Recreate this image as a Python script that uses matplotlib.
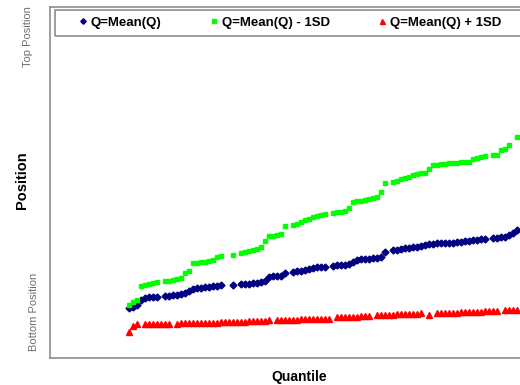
import numpy as np
import matplotlib
matplotlib.use("Agg")
import matplotlib.pyplot as plt
from matplotlib.patches import Rectangle

plt.rcParams['font.family'] = ['Liberation Sans', 'DejaVu Sans']

# Quantile index (1..98); None = no point at that quantile
quantile = list(range(1, 99))

# Position values (larger = lower on chart; axis runs from Bottom to Top position)
mean_q = [308, 306.5, 305, 300, 297.5, 297, 296.5, 296.5, None, 296,
          295.5, 295, 294.5, 294, 293, 291, 289, 287.5, 287.5, 287,
          286.5, 286, 285.5, 284.5, None, None, 284.5, None, 284.3, 284,
          283.5, 283.3, 283, 282, 280.5, 277, 276, 276.3, 275.5, 272.7,
          None, 271.7, 271, 270.5, 269.5, 268.5, 267.5, 267, 267, 266.7,
          None, 265.5, 265.3, 265.2, 265, 264, 262, 260, 259.3, 259,
          258.5, 258.3, 258, 256.5, 252, None, 250.3, 249.7, 249, 248.3,
          247.5, 247, 246.5, 246, 245, 244.3, 243.7, 243.3, 243.3, 243,
          242.7, 242.5, 242, 241.7, 241.3, 240.8, 240.3, 239.7, 239.3, 238.7,
          None, 238.3, 237.8, 237.3, 237, 235, 232.5, 229.5]

mean_minus_sd = [305, 302, 299.5, 286, 285, 284, 283, 282, None, 281,
                 280.5, 280, 279, 277.5, 273, 271, 263, 262.5, 262, 261.5,
                 260.5, 260, 256.5, 256, None, None, 255, None, 253.3, 252,
                 251, 250, 248.5, 246.7, 240.7, 236, 235.5, 235, 234.3, 226,
                 None, 225, 223.5, 222, 220, 218.5, 217, 215.5, 214.5, 213.5,
                 None, 212.7, 212, 211.5, 210.7, 208.3, 201.7, 201, 200.5, 199.5,
                 199, 198.3, 197, 192.3, 183.3, None, 181.7, 180.5, 179, 177.5,
                 176.5, 175, 174, 173, 172.7, 169.3, 165, 164.5, 164, 163.5,
                 163.3, 163, 162.7, 162.3, 162, 161.7, 159.3, 158.3, 157, 156,
                 None, 155, 154.5, 150, 148.5, 145, None, 136.5]

mean_plus_sd = [331.5, 326, 324, None, 324, 324, 324, 323.8, 323.8, 323.8,
                323.7, None, 323.5, 323.4, 323.3, 323.2, 323.1, 323, 322.9, 322.8,
                322.7, 322.6, 322.5, 322.4, 322.3, 322.2, 322.1, 322, 321.8, 321.6,
                321.4, 321.2, 321, 320.8, 320.6, 320.4, None, 320.2, 320, 319.8,
                319.7, 319.6, 319.5, 319.3, 319.1, 319, 318.9, 318.8, 318.7, 318.6,
                318.5, None, 317, 316.9, 316.8, 316.7, 316.6, 316.5, 316.4, 316.3,
                316.2, None, 315.2, 315, 314.9, 314.7, 314.5, 314.3, 314.2, 314,
                313.9, 313.7, 313.5, 313.3, None, 314.5, None, 313.3, 313.1, 313,
                312.8, 312.6, 312.5, 312.3, 312.1, 312, 311.8, 311.6, 311.5, 311.3,
                311.1, 311, 310.8, None, 310.4, 310.2, 310.1, 310]

labels = ["Q=Mean(Q)", "Q=Mean(Q) - 1SD", "Q=Mean(Q) + 1SD"]

W, H = 520, 385
fig = plt.figure(figsize=(W / 100, H / 100), dpi=100)
fig.patch.set_facecolor('white')

ax = fig.add_axes([50 / W, (H - 358) / H, (545 - 50) / W, (358 - 7) / H])
ax.set_xlim(-18.75, 105)
ax.set_ylim(358, 7)

x = np.array(quantile, dtype=float)
l1, = ax.plot(x, np.array(mean_q, dtype=float), ls='none', marker='D',
              ms=3.5, color='#000080', mec='#000080', label=labels[0])
l2, = ax.plot(x, np.array(mean_minus_sd, dtype=float), ls='none', marker='s',
              ms=3.5, color='#00ff00', mec='#00ff00', label=labels[1])
l3, = ax.plot(x, np.array(mean_plus_sd, dtype=float), ls='none', marker='^',
              ms=4.5, color='#ff0000', mec='#ff0000', label=labels[2])

ax.set_xticks([])
ax.set_yticks([])
for s in ax.spines.values():
    s.set_color('#8c8c8c')
    s.set_linewidth(1.2)

# legend frame
fig.add_artist(Rectangle((55 / W, (H - 36) / H), (545 - 55) / W, 26 / H,
                         transform=fig.transFigure, fill=False,
                         edgecolor='#8c8c8c', lw=1.2, zorder=5))
leg = fig.legend(handles=[l1, l2, l3], loc='center left',
                 bbox_to_anchor=(79 / W, (H - 23) / H), bbox_transform=fig.transFigure,
                 ncol=3, frameon=False, borderpad=0, borderaxespad=0,
                 handlelength=0.6, handletextpad=0.3, columnspacing=3.65,
                 prop={'weight': 'bold', 'size': 9.5}, markerscale=0.8)

fig.text(22 / W, 1 - 180 / H, 'Position', rotation=90, fontsize=10.5,
         fontweight='bold', ha='center', va='center')
fig.text(299 / W, 1 - 377 / H, 'Quantile', fontsize=10,
         fontweight='bold', ha='center', va='center')
fig.text(28 / W, 1 - 37 / H, 'Top Position', rotation=90, fontsize=8,
         color='#6e6e6e', ha='center', va='center')
fig.text(34 / W, 1 - 312 / H, 'Bottom Position', rotation=90, fontsize=8,
         color='#6e6e6e', ha='center', va='center')

fig.savefig('out.png', dpi=100, facecolor='white')
